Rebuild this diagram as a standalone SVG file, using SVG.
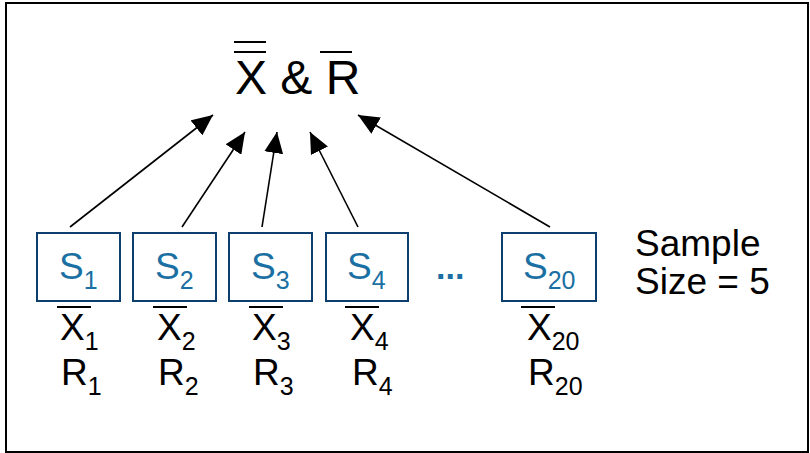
<svg xmlns="http://www.w3.org/2000/svg" width="810" height="453" viewBox="0 0 810 453">
<style>
text{font-family:"Liberation Sans",Arial,sans-serif;}
.box{fill:#fff;stroke:#0d3f6e;stroke-width:2;}
.s{fill:#1a6fa3;font-size:37px;}
.k{fill:#000;font-size:37px;}
.sub{font-size:25px;}
.bar{stroke:#000;stroke-width:2;}
.conn{stroke:#000;stroke-width:1.6;fill:none;marker-end:url(#ah);}
</style>
<defs>
<marker id="ah" viewBox="0 0 21 19" refX="21" refY="9.5" markerWidth="21" markerHeight="19" markerUnits="userSpaceOnUse" orient="auto">
<path d="M0,0 L21,9.5 L0,19 Z" fill="#000"/>
</marker>
</defs>
<rect x="6" y="3" width="802" height="449" fill="#fff" stroke="#000" stroke-width="2"/>
<g id="title">
<text x="235" y="94" style="font-size:48px" fill="#000">X &amp; R</text>
<line class="bar" x1="234" y1="42" x2="266" y2="42"/>
<line class="bar" x1="234" y1="52" x2="266" y2="52"/>
<line class="bar" x1="320" y1="52" x2="352" y2="52"/>
</g>
<g id="connectors">
<line class="conn" x1="70" y1="227" x2="213" y2="115"/>
<line class="conn" x1="182" y1="227" x2="245" y2="132"/>
<line class="conn" x1="262" y1="227" x2="277" y2="132"/>
<line class="conn" x1="358" y1="227" x2="310" y2="132"/>
<line class="conn" x1="550" y1="227" x2="358" y2="115"/>
</g>
<g id="s1">
<rect class="box" x="37" y="233" width="83" height="68"/>
<text class="s" x="59" y="279">S<tspan class="sub" dy="10">1</tspan></text>
<line class="bar" x1="57" y1="307" x2="91" y2="307"/>
<text class="k" x="60" y="340">X<tspan class="sub" dy="10">1</tspan></text>
<text class="k" x="61" y="385">R<tspan class="sub" dy="10">1</tspan></text>
</g>
<g id="s2">
<rect class="box" x="133" y="233" width="83" height="68"/>
<text class="s" x="155" y="279">S<tspan class="sub" dy="10">2</tspan></text>
<line class="bar" x1="153" y1="307" x2="187" y2="307"/>
<text class="k" x="157" y="340">X<tspan class="sub" dy="10">2</tspan></text>
<text class="k" x="158" y="385">R<tspan class="sub" dy="10">2</tspan></text>
</g>
<g id="s3">
<rect class="box" x="229" y="233" width="83" height="68"/>
<text class="s" x="251" y="279">S<tspan class="sub" dy="10">3</tspan></text>
<line class="bar" x1="249" y1="307" x2="283" y2="307"/>
<text class="k" x="252" y="340">X<tspan class="sub" dy="10">3</tspan></text>
<text class="k" x="253" y="385">R<tspan class="sub" dy="10">3</tspan></text>
</g>
<g id="s4">
<rect class="box" x="326" y="233" width="82" height="68"/>
<text class="s" x="347" y="279">S<tspan class="sub" dy="10">4</tspan></text>
<line class="bar" x1="345" y1="307" x2="379" y2="307"/>
<text class="k" x="350" y="340">X<tspan class="sub" dy="10">4</tspan></text>
<text class="k" x="352" y="385">R<tspan class="sub" dy="10">4</tspan></text>
</g>
<g id="ellipsis">
<text x="436" y="279" fill="#1a6fa3" style="font-size:34px;font-weight:bold">...</text>
</g>
<g id="s20">
<rect class="box" x="502" y="233" width="94" height="68"/>
<text class="s" x="523" y="279">S<tspan class="sub" dy="10">20</tspan></text>
<line class="bar" x1="521" y1="307" x2="555" y2="307"/>
<text class="k" x="527" y="340">X<tspan class="sub" dy="10">20</tspan></text>
<text class="k" x="528" y="385">R<tspan class="sub" dy="10">20</tspan></text>
</g>
<g id="sample-size">
<text class="k" x="635" y="256">Sample</text>
<text class="k" x="635" y="294">Size = 5</text>
</g>
</svg>
